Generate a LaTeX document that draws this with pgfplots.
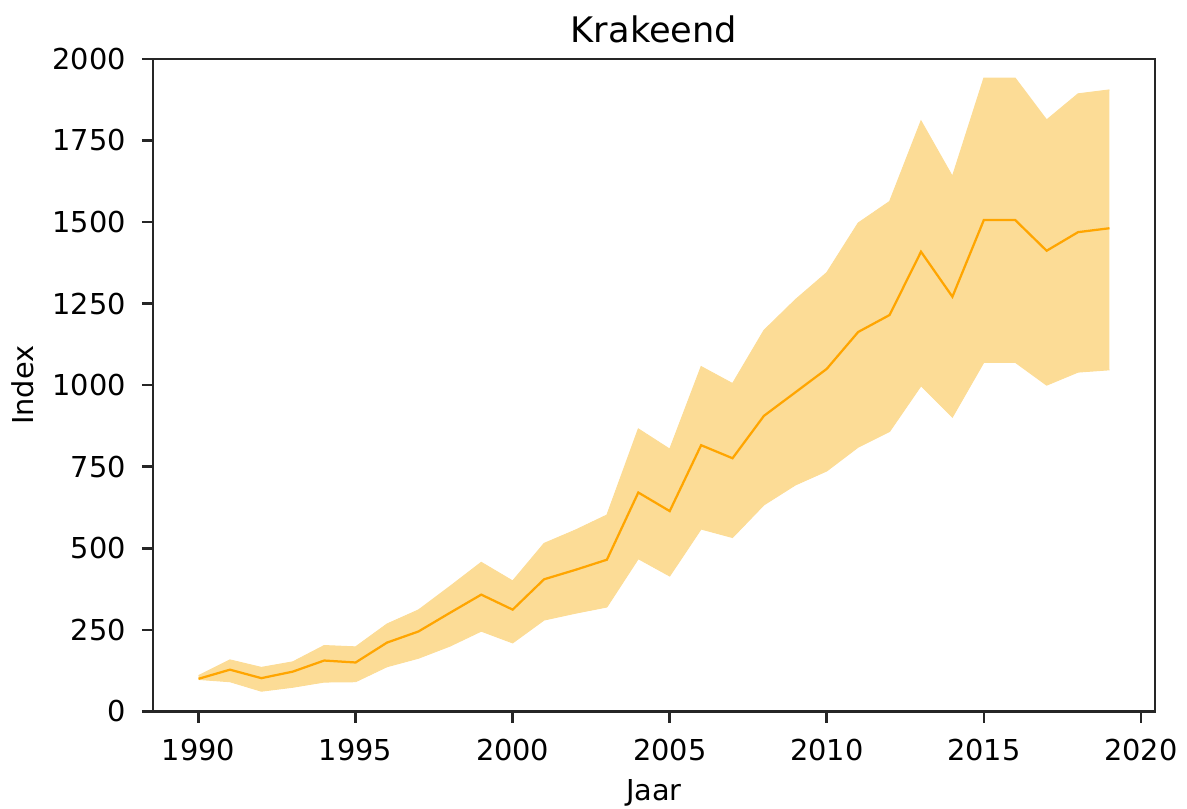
\documentclass[border=0pt]{standalone}
\usepackage{fontspec}
\setmainfont{DejaVu Sans}
\usepackage{pgfplots}
\pgfplotsset{compat=1.18}
\usepackage{pgfplotstable}
\usepgfplotslibrary{fillbetween}
\definecolor{mplorange}{HTML}{FFA500}
\definecolor{bandfill}{HTML}{FCDC96}
\definecolor{spine}{HTML}{262626}
\pgfplotstableread{
year mean lo hi
1990 100 98 110
1991 128 91 158
1992 102 62 135
1993 122 74 152
1994 156 90 202
1995 150 91 198
1996 211 137 268
1997 245 163 311
1998 302 200 383
1999 358 246 457
2000 312 210 400
2001 405 280 515
2002 434 301 556
2003 465 320 602
2004 671 468 866
2005 614 415 804
2006 816 559 1057
2007 776 533 1005
2008 906 633 1168
2009 978 694 1262
2010 1050 737 1345
2011 1163 810 1497
2012 1215 858 1563
2013 1409 998 1810
2014 1271 902 1640
2015 1506 1070 1941
2016 1506 1070 1941
2017 1412 1000 1813
2018 1469 1040 1893
2019 1481 1047 1905
}\datatable
\begin{document}
\begin{tikzpicture}
\begin{axis}[
  at={(0,0)}, anchor=south west,
  scale only axis,
  width=313.1pt, height=203.9pt,
  xmin=1988.55, xmax=2020.45,
  ymin=0, ymax=2000,
  xtick={1990,1995,2000,2005,2010,2015,2020},
  ytick={0,250,500,750,1000,1250,1500,1750,2000},
  /pgf/number format/1000 sep={},
  /pgf/number format/assume math mode=true,
  tick align=outside,
  tick pos=left,
  major tick length=3.5pt,
  tick style={spine, line width=0.8pt},
  axis line style={spine, line width=0.8pt},
  ticklabel style={font=\fontsize{9}{11}\selectfont, text=black},
  xticklabel style={yshift=-1.5pt},
  yticklabel style={xshift=-1.5pt},
  title={Krakeend},
  title style={font=\fontsize{11}{13}\selectfont, yshift=-4.5pt},
  xlabel={Jaar},
  ylabel={Index},
  label style={font=\fontsize{9}{11}\selectfont},
  xlabel style={yshift=1pt},
  ylabel style={yshift=-1pt},
  clip=true,
]
\addplot[name path=hi, draw=bandfill, line width=0.3pt, forget plot] table[x=year, y=hi] {\datatable};
\addplot[name path=lo, draw=bandfill, line width=0.3pt, forget plot] table[x=year, y=lo] {\datatable};
\addplot[fill=bandfill, draw=none, forget plot] fill between[of=hi and lo];
\addplot[mplorange, line width=0.7pt, mark=none] table[x=year, y=mean] {\datatable};
\end{axis}
\pgfresetboundingbox
\path[use as bounding box] (-47.81pt,-30.47pt) rectangle (323.1pt,222.3pt);
\end{tikzpicture}
\end{document}
